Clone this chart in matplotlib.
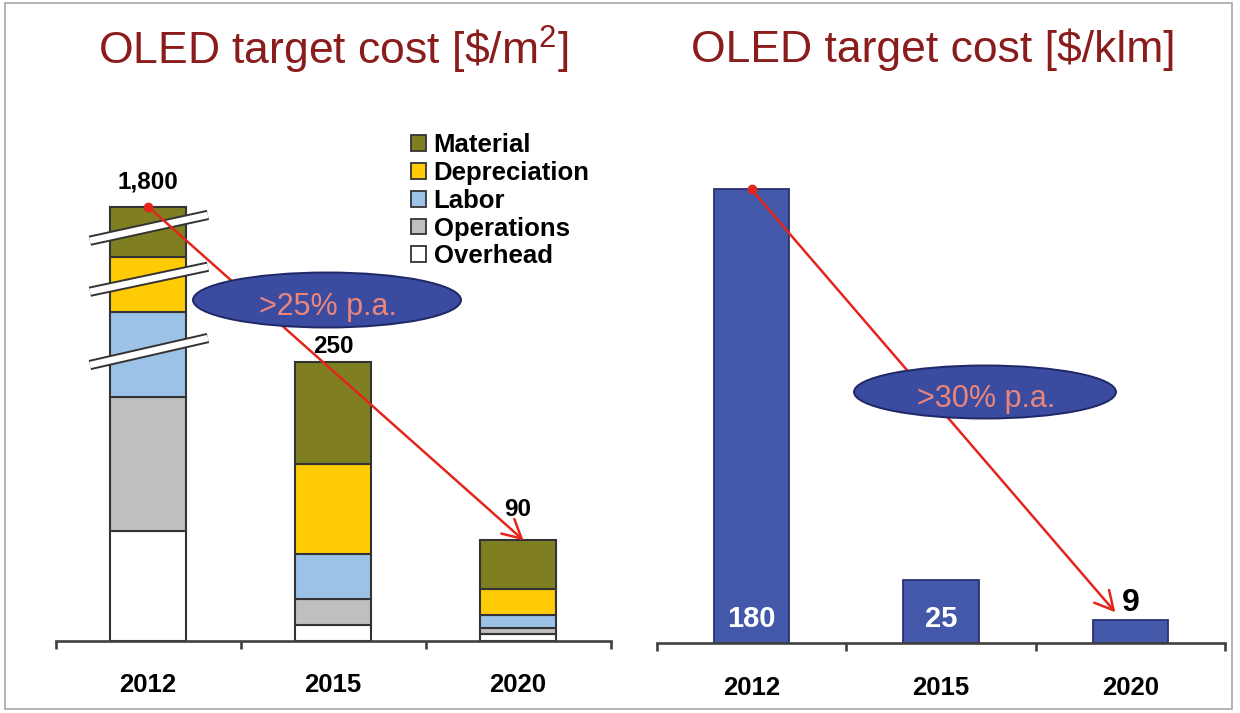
import numpy as np
import matplotlib
matplotlib.use("Agg")
import matplotlib.pyplot as plt
from matplotlib.patches import Patch, Ellipse, Rectangle

# ---- data -------------------------------------------------------------
years = ["2012", "2015", "2020"]
components = ["Material", "Depreciation", "Labor", "Operations", "Overhead"]

# cost breakdown in $/m2 (stacked from the bottom: overhead first)
overhead = [98, 14, 6]
operations = [120, 23, 5]
labor = [532, 41, 12]
depreciation = [543, 80, 23]
material = [507, 92, 44]
area_totals = [1800, 250, 90]

# cost per kilolumen in $/klm
lumen_cost = [180, 25, 9]

rate_labels = [">25% p.a.", ">30% p.a."]

# ---- style ------------------------------------------------------------
plt.rcParams["font.family"] = ["Liberation Sans", "DejaVu Sans"]
plt.rcParams["mathtext.default"] = "regular"

colors = {
    "Material": "#7f7f22",
    "Depreciation": "#ffcb05",
    "Labor": "#9cc3e7",
    "Operations": "#bfbfbf",
    "Overhead": "#ffffff",
}
edge = "#333333"
axis_col = "#404040"
title_col = "#8b1c1c"
arrow_col = "#e3261c"
bubble_face = "#3b4b9f"
bubble_edge = "#1f2766"
bubble_text = "#ea857c"
klm_col = "#4358a8"

W, H = 1240, 713
fig = plt.figure(figsize=(W / 100, H / 100), dpi=100)
fig.patch.set_facecolor("white")


def fx(px):
    return px / W


def fy(py):
    return 1 - py / H


# broken value axis for the stacked chart: linear up to SPLIT, squeezed above
SPLIT = 250.0
SQUEEZE = 0.0897


def squeeze(y):
    y = np.asarray(y, dtype=float)
    return np.where(y <= SPLIT, y, SPLIT + (y - SPLIT) * SQUEEZE)


def unsqueeze(z):
    z = np.asarray(z, dtype=float)
    return np.where(z <= SPLIT, z, SPLIT + (z - SPLIT) / SQUEEZE)


def style_axis(ax):
    for s in ("left", "right", "top"):
        ax.spines[s].set_visible(False)
    ax.spines["bottom"].set_color(axis_col)
    ax.spines["bottom"].set_linewidth(1.9)
    ax.set_xlim(-0.5, 2.5)
    ax.set_xticks([-0.5, 0.5, 1.5, 2.5])
    ax.set_xticklabels([])
    ax.tick_params(axis="x", which="major", direction="out", length=6,
                   width=1.9, color=axis_col)
    ax.set_xticks([0, 1, 2], minor=True)
    ax.set_xticklabels(years, minor=True, fontsize=18.5, fontweight="bold")
    ax.tick_params(axis="x", which="minor", length=0, pad=23.5)
    ax.set_yticks([])
    ax.patch.set_alpha(0)


# ---- left: stacked $/m2 ------------------------------------------------
ax1 = fig.add_axes([fx(55.5), fy(640.7), fx(555), 535.7 / H])
ax1.set_yscale("function", functions=(squeeze, unsqueeze))
ax1.set_ylim(0, float(unsqueeze(480)))
style_axis(ax1)

x = np.arange(len(years))
stack = [("Overhead", overhead), ("Operations", operations), ("Labor", labor),
         ("Depreciation", depreciation), ("Material", material)]
bottom = np.zeros(len(years))
for name, vals in stack:
    ax1.bar(x, vals, width=0.41, bottom=bottom, color=colors[name],
            edgecolor=edge, linewidth=1.5, zorder=2)
    bottom += np.asarray(vals, dtype=float)

# break marks across the squeezed 2012 column
for (x0, z0), (x1, z1) in [((-0.314, 358.4), (0.324, 381.5)),
                           ((-0.314, 312.7), (0.324, 335.1)),
                           ((-0.314, 247.0), (0.324, 271.2))]:
    ys = [float(unsqueeze(z0)), float(unsqueeze(z1))]
    ax1.plot([x0, x1], ys, color=edge, lw=7.4, solid_capstyle="butt", zorder=3)
    ax1.plot([x0, x1], ys, color="white", lw=4.6, solid_capstyle="butt", zorder=3.1)

for i, (tot, off) in enumerate(zip(area_totals, [18, 11, 22.5])):
    ax1.annotate(f"{tot:,}", xy=(i, tot), xytext=(0, off),
                 textcoords="offset points", ha="center", va="center",
                 fontsize=17.5, fontweight="bold", color="black", zorder=6)

ax1.plot(0, area_totals[0], "o", color=arrow_col, ms=6, zorder=4)
ax1.annotate("", xy=(2.03, area_totals[2]), xytext=(0, area_totals[0]),
             arrowprops=dict(arrowstyle="->,head_length=0.6,head_width=0.32",
                             color=arrow_col, lw=1.8, shrinkA=0, shrinkB=0,
                             mutation_scale=22), zorder=4)

handles = [Patch(facecolor=colors[c], edgecolor=edge, linewidth=1.3) for c in components]
fig.legend(handles, components, loc="upper left",
           bbox_to_anchor=(fx(411), fy(133)), frameon=False, borderpad=0,
           borderaxespad=0, handlelength=0.58, handleheight=0.58,
           handletextpad=0.3, labelspacing=0.15,
           prop=dict(size=18.5, weight="bold"))

# ---- right: $/klm -----------------------------------------------------
ax2 = fig.add_axes([fx(656.75), fy(643), fx(568.5), 538 / H])
ax2.set_ylim(0, 213.5)
style_axis(ax2)
ax2.bar(x, lumen_cost, width=0.40, color=klm_col, edgecolor="#2b3170",
        linewidth=1.3, zorder=2)
for i, v in enumerate(lumen_cost[:2]):
    ax2.annotate(f"{v}", xy=(i, 0), xytext=(0, 17.5), textcoords="offset points",
                 ha="center", va="center", fontsize=21, fontweight="bold",
                 color="white", zorder=5)
ax2.annotate(f"{lumen_cost[2]}", xy=(2, lumen_cost[2]), xytext=(0, 12.5),
             textcoords="offset points", ha="center", va="center",
             fontsize=23, fontweight="bold", color="black", zorder=5)

ax2.plot(0, lumen_cost[0], "o", color=arrow_col, ms=6, zorder=4)
ax2.annotate("", xy=(1.92, 12.2), xytext=(0, lumen_cost[0]),
             arrowprops=dict(arrowstyle="->,head_length=0.6,head_width=0.32",
                             color=arrow_col, lw=1.8, shrinkA=0, shrinkB=0,
                             mutation_scale=22), zorder=4)

# ---- rate bubbles -----------------------------------------------------
for (cx, cy, w, h), label in zip([(327, 300, 268, 55), (985, 392, 262, 53)],
                                 rate_labels):
    fig.patches.append(Ellipse((fx(cx), fy(cy)), w / W, h / H,
                               transform=fig.transFigure, facecolor=bubble_face,
                               edgecolor=bubble_edge, linewidth=1.4, zorder=10))
    fig.text(fx(cx + 1), fy(cy + 7), label, ha="center", va="center",
             fontsize=22, color=bubble_text, zorder=11)

# ---- titles -----------------------------------------------------------
fig.text(fx(333), fy(50), r"OLED target cost [\$/$\mathregular{m^{2}}$]",
         ha="center", va="center", fontsize=32, color=title_col)
fig.text(fx(933), fy(50), r"OLED target cost [\$/klm]",
         ha="center", va="center", fontsize=32, color=title_col)

# outer frame
fig.patches.append(Rectangle((fx(5), fy(709)), fx(1227), (709 - 3) / H,
                             transform=fig.transFigure, fill=False,
                             edgecolor="#a8a8a8", linewidth=1.2, zorder=0))

fig.savefig("out.png", dpi=100)
